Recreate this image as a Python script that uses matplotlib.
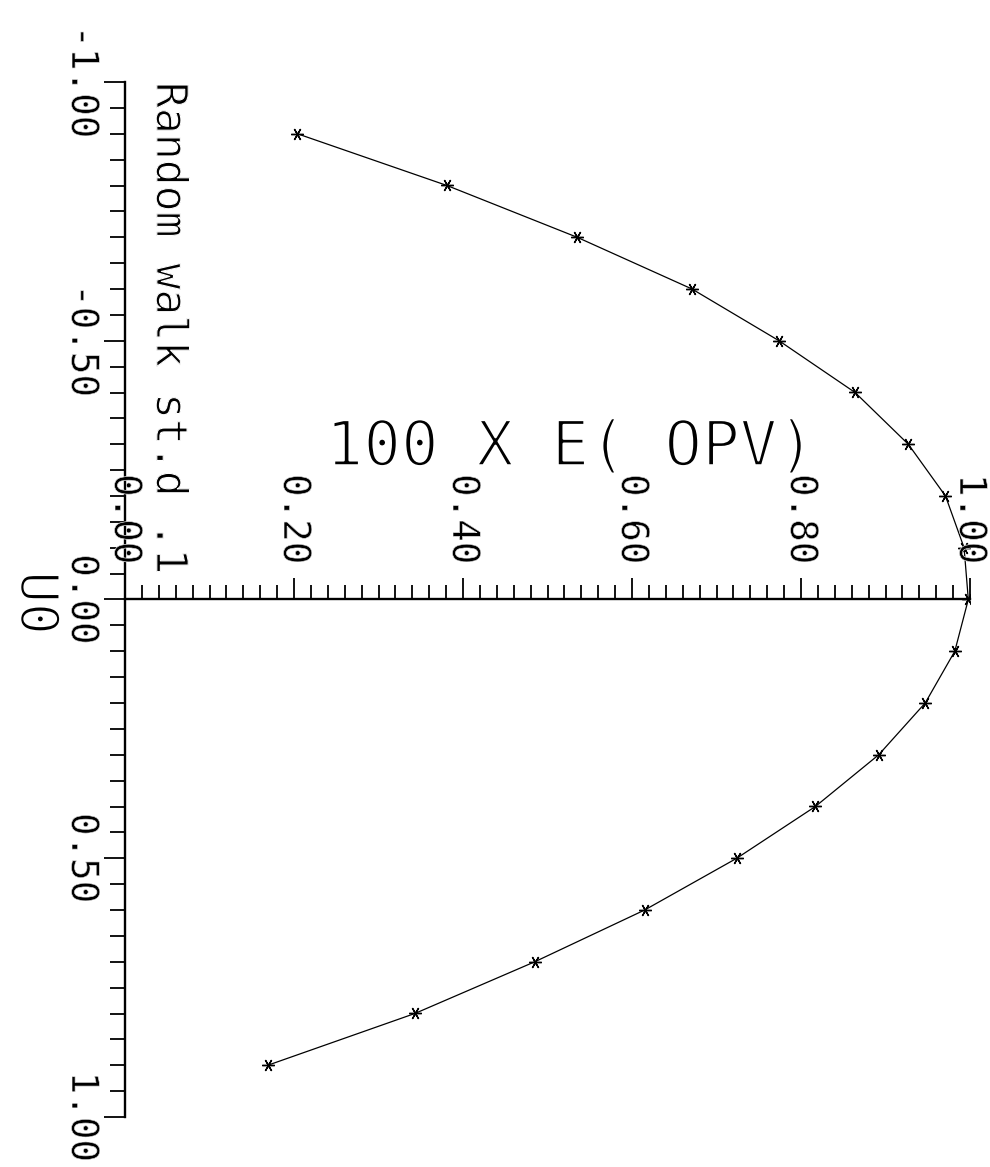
import matplotlib
matplotlib.use('Agg')
import matplotlib.pyplot as plt
import matplotlib.patheffects as pe
import numpy as np

# random walk st.d .1 : expected OPV (x100) against U0
u0 = [-0.9, -0.8, -0.7, -0.6, -0.5, -0.4, -0.3, -0.2, -0.1, 0.0,
      0.1, 0.2, 0.3, 0.4, 0.5, 0.6, 0.7, 0.8, 0.9]
opv = [0.204, 0.381, 0.535, 0.671, 0.774, 0.864, 0.927, 0.971, 0.993, 0.998,
       0.982, 0.947, 0.892, 0.817, 0.724, 0.615, 0.485, 0.343, 0.169]

u0_ticks = [-1.0, -0.5, 0.0, 0.5, 1.0]
u0_labels = ['-1.00', '-0.50', '0.00', '0.50', '1.00']
opv_ticks = [0.0, 0.2, 0.4, 0.6, 0.8, 1.0]
opv_labels = ['0.00', '0.20', '0.40', '0.60', '0.80', '1.00']

plt.rcParams['font.family'] = ['DejaVu Sans Mono']

# white outline on top of the glyphs -> thinner, pen-plotter like strokes
def thin(w):
    return [pe.Normal(), pe.Stroke(linewidth=w, foreground='white')]

def main():
    fig = plt.figure(figsize=(9.9, 11.67), dpi=100)
    # plotted sideways: value runs left->right, U0 runs top->bottom
    ax = fig.add_axes([125 / 990, 50 / 1167, 845 / 990, 1035 / 1167])
    ax.set_xlim(0, 1.0)
    ax.set_ylim(1.0, -1.0)

    ax.plot(opv, u0, color='black', lw=0.9, marker=(6, 2, 90),
            ms=9, mew=1.0, mec='black')

    for s in ['top', 'right']:
        ax.spines[s].set_visible(False)
    ax.spines['bottom'].set_position(('data', 0))
    ax.spines['left'].set_linewidth(1.7)
    ax.spines['bottom'].set_linewidth(1.7)

    # U0 axis (left)
    ax.set_yticks(u0_ticks, labels=u0_labels)
    ax.set_yticks(np.arange(-1.0, 1.001, 0.05), minor=True)
    ax.tick_params(axis='y', which='major', direction='out', length=15,
                   width=1.3, pad=3, labelsize=27, labelrotation=270)
    ax.tick_params(axis='y', which='minor', direction='out', length=10.5,
                   width=1.3)
    for lab in ax.get_yticklabels():
        lab.set_va('center')
        lab.set_ha('right')
        lab.set_path_effects(thin(0.45))

    # value axis through U0 = 0, ticks pointing up
    ax.set_xticks(opv_ticks)
    ax.set_xticks(np.arange(0, 1.001, 0.02), minor=True)
    ax.tick_params(axis='x', which='major', direction='in', length=15,
                   width=1.3, labelbottom=False)
    ax.tick_params(axis='x', which='minor', direction='in', length=10,
                   width=1.3)
    for v, s in zip(opv_ticks, opv_labels):
        ax.text(v, -0.155, s, rotation=270, ha='center', va='center',
                fontsize=27, path_effects=thin(0.45))

    ax.text(0.527, -0.259, '100 X E( OPV)', ha='center', va='baseline',
            fontsize=45, path_effects=thin(1.8))
    ax.text(0.027, -1.0, 'Random walk st.d .1', rotation=270, ha='left',
            va='top', fontsize=31, path_effects=thin(0.8))
    fig.text(36 / 990, 1 - 603 / 1167, 'U0', rotation=270, ha='center',
             va='center', fontsize=38, path_effects=thin(1.5))

    fig.savefig('out.png', dpi=100, facecolor='white')

if __name__ == "__main__":
    main()
